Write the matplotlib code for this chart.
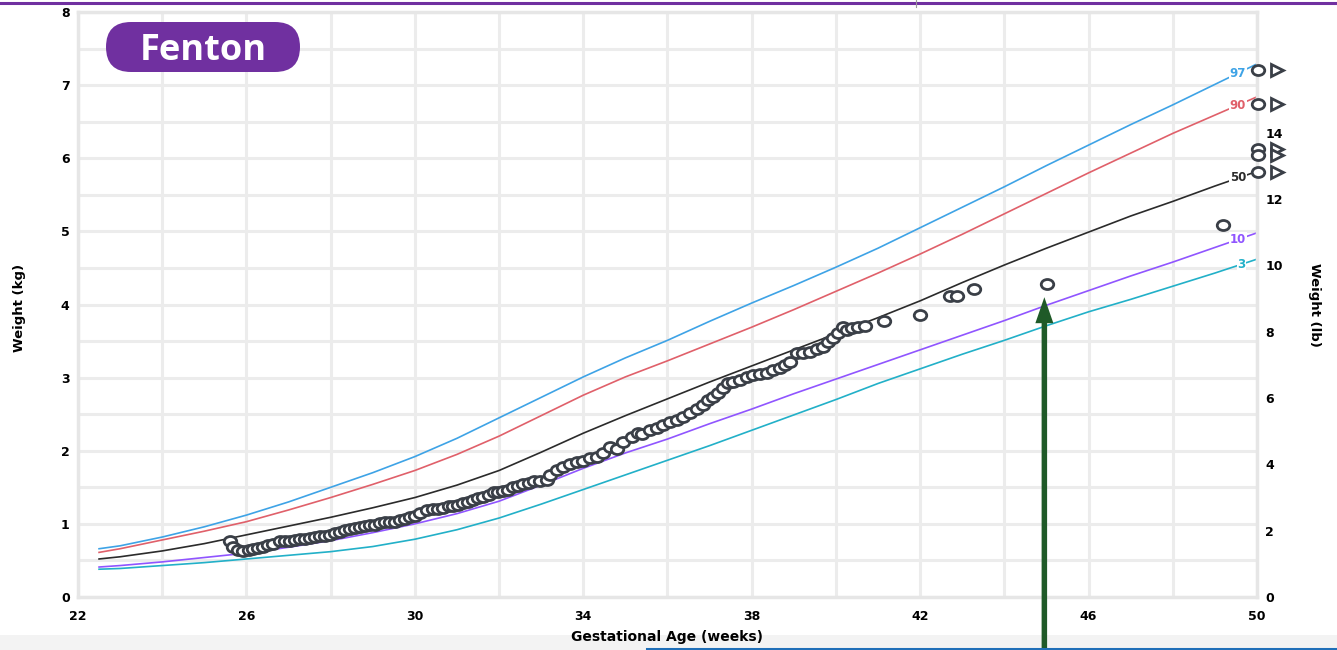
import numpy as np
import matplotlib.pyplot as plt
from matplotlib.patches import FancyBboxPatch, FancyArrow, Rectangle
from matplotlib.path import Path
from matplotlib.transforms import IdentityTransform, Affine2D
from matplotlib.lines import Line2D

plt.rcParams['font.family'] = ['DejaVu Sans']
plt.rcParams['font.weight'] = 'bold'

# percentile curves (Fenton, kg)
weeks = [22.5, 23, 24, 25, 26, 27, 28, 29, 30, 31, 32, 33, 34, 35, 36,
         37, 38, 39, 40, 41, 42, 43, 44, 45, 46, 47, 48, 49, 50]
p97 = [0.66, 0.70, 0.82, 0.96, 1.12, 1.30, 1.50, 1.70, 1.92, 2.17, 2.45, 2.73, 3.01, 3.27, 3.51,
       3.77, 4.02, 4.26, 4.51, 4.77, 5.05, 5.33, 5.61, 5.90, 6.18, 6.46, 6.73, 7.01, 7.29]
p90 = [0.61, 0.66, 0.78, 0.90, 1.03, 1.19, 1.36, 1.54, 1.73, 1.95, 2.20, 2.48, 2.76, 3.01, 3.23,
       3.46, 3.69, 3.93, 4.18, 4.43, 4.69, 4.96, 5.24, 5.52, 5.80, 6.07, 6.34, 6.59, 6.84]
p50 = [0.52, 0.55, 0.63, 0.73, 0.85, 0.97, 1.09, 1.22, 1.36, 1.53, 1.73, 1.98, 2.24, 2.48, 2.71,
       2.94, 3.16, 3.38, 3.60, 3.82, 4.05, 4.30, 4.54, 4.77, 4.99, 5.21, 5.41, 5.62, 5.82]
p10 = [0.41, 0.43, 0.48, 0.54, 0.60, 0.68, 0.77, 0.88, 1.00, 1.14, 1.31, 1.53, 1.76, 1.97, 2.16,
       2.37, 2.57, 2.78, 2.98, 3.18, 3.38, 3.58, 3.78, 3.99, 4.19, 4.39, 4.58, 4.78, 4.98]
p3 = [0.38, 0.39, 0.43, 0.47, 0.52, 0.57, 0.62, 0.69, 0.79, 0.92, 1.08, 1.27, 1.47, 1.67, 1.87,
      2.07, 2.28, 2.49, 2.70, 2.92, 3.12, 3.32, 3.51, 3.71, 3.90, 4.07, 4.25, 4.43, 4.62]
pct_names = ['97', '90', '50', '10', '3']
pct_colors = ['#3ea3e6', '#e0606a', '#2b2b2b', '#9055ff', '#22b0c8']

# infant weights (kg) by gestational age (weeks)
ga = [25.61, 25.69, 25.81, 25.93, 26.05, 26.16, 26.28, 26.40, 26.52, 26.64,
      26.80, 26.92, 27.04, 27.15, 27.27, 27.39, 27.51, 27.63, 27.75, 27.87,
      27.99, 28.10, 28.22, 28.34, 28.46, 28.58, 28.70, 28.82, 28.94, 29.05,
      29.17, 29.29, 29.41, 29.53, 29.65, 29.77, 29.89, 30.00, 30.12, 30.28,
      30.44, 30.56, 30.68, 30.80, 30.91, 31.03, 31.15, 31.27, 31.39, 31.51,
      31.63, 31.75, 31.87, 31.98, 32.10, 32.22, 32.34, 32.46, 32.58, 32.70,
      32.82, 32.97, 33.13,
      33.21, 33.38, 33.52, 33.69, 33.85, 34.00, 34.16, 34.33, 34.47, 34.64,
      34.80, 34.95, 35.16, 35.30, 35.40, 35.59, 35.75, 35.90, 36.06, 36.23,
      36.37, 36.54, 36.70, 36.85, 36.96, 37.08, 37.20, 37.32, 37.44, 37.56,
      37.72, 37.89, 38.03, 38.20, 38.37, 38.51, 38.67, 38.79, 38.91, 39.08,
      39.22, 39.39, 39.55, 39.70, 39.82, 39.93, 40.05, 40.17, 40.26, 40.38,
      40.53, 40.69,
      41.13, 42.00, 42.71, 42.87, 43.27, 45.01, 49.19]
wt = [0.76, 0.69, 0.64, 0.63, 0.64, 0.65, 0.67, 0.69, 0.71, 0.73,
      0.76, 0.77, 0.77, 0.78, 0.79, 0.80, 0.81, 0.82, 0.83, 0.83,
      0.85, 0.87, 0.89, 0.92, 0.93, 0.94, 0.96, 0.97, 0.99, 0.99,
      1.01, 1.02, 1.03, 1.03, 1.05, 1.07, 1.09, 1.11, 1.15, 1.19,
      1.20, 1.21, 1.22, 1.24, 1.25, 1.26, 1.28, 1.30, 1.33, 1.35,
      1.37, 1.40, 1.43, 1.44, 1.45, 1.47, 1.50, 1.52, 1.55, 1.56,
      1.58, 1.59, 1.60,
      1.67, 1.74, 1.78, 1.82, 1.85, 1.86, 1.90, 1.92, 1.97, 2.05,
      2.03, 2.12, 2.19, 2.24, 2.23, 2.28, 2.31, 2.35, 2.39, 2.42,
      2.46, 2.52, 2.57, 2.63, 2.69, 2.74, 2.79, 2.86, 2.93, 2.94,
      2.97, 3.01, 3.04, 3.05, 3.06, 3.11, 3.13, 3.17, 3.21, 3.34,
      3.34, 3.35, 3.39, 3.42, 3.49, 3.54, 3.61, 3.69, 3.65, 3.68,
      3.69, 3.71,
      3.77, 3.86, 4.11, 4.12, 4.21, 4.28, 5.09]

# symbols sitting just right of the plot edge
edge_kg = [7.21, 6.74, 6.13, 6.05, 5.81]

W, H = 1337, 650
fig = plt.figure(figsize=(W / 100, H / 100), dpi=100)
ax = fig.add_axes([78 / W, 1 - 597 / H, (1257 - 78) / W, (597 - 12) / H])

ax.set_xlim(22, 50)
ax.set_ylim(0, 8)
ax.set_xticks(range(22, 51, 4))
ax.set_xticks(range(22, 51, 2), minor=True)
ax.set_yticks(range(0, 9))
ax.set_yticks(np.arange(0, 8.01, 0.5), minor=True)
ax.grid(which='both', color='#ececec', lw=2.2, zorder=0)
ax.set_axisbelow(True)
ax.tick_params(which='both', length=0, labelsize=9)
ax.tick_params(axis='x', pad=9)
ax.tick_params(axis='y', pad=6)
for sp in ax.spines.values():
    sp.set_color('#e6e6e6')
    sp.set_linewidth(2.5)

# percentile lines + end labels
for name, vals, col in zip(pct_names, [p97, p90, p50, p10, p3], pct_colors):
    ax.plot(weeks, vals, color=col, lw=1.2, zorder=2, solid_joinstyle='round')
    lx = 49.63 if name == '3' else 49.55
    ax.text(lx, np.interp(lx, weeks, vals), name, color=col, fontsize=8.5,
            ha='center', va='center', zorder=3,
            bbox=dict(fc='white', ec='none', pad=0.6))

# slightly wide ellipse marker (the source screenshot is stretched)
ell = Path.unit_circle().transformed(Affine2D().scale(1.25, 1.0))
ax.plot(ga, wt, ls='none', marker=ell, ms=9, mfc='white', mec='#3a3f47',
        mew=2, zorder=4, clip_on=False)
ax.plot([50.03] * len(edge_kg), edge_kg, ls='none', marker=ell, ms=9,
        mfc='white', mec='#3a3f47', mew=2, zorder=4, clip_on=False)
ax.plot([50.48] * len(edge_kg), edge_kg, ls='none', marker='>', ms=9,
        mfc='white', mec='#3a3f47', mew=2, zorder=4, clip_on=False)

# right axis in pounds
ax2 = ax.twinx()
ax2.set_ylim(0, 8 / 0.45359237)
ax2.set_yticks(range(0, 15, 2))
ax2.tick_params(length=0, labelsize=9, pad=6)
for sp in ax2.spines.values():
    sp.set_visible(False)

fig.text(20 / W, 1 - 308 / H, 'Weight (kg)', rotation=90, ha='center', va='center', fontsize=9.5)
fig.text(1315 / W, 1 - 305 / H, 'Weight (lb)', rotation=270, ha='center', va='center', fontsize=9.5)
fig.text(667 / W, 1 - 637 / H, 'Gestational Age (weeks)', ha='center', va='center', fontsize=10)

# slide decorations
fig.add_artist(Line2D([0, 1], [1 - 3 / H] * 2, transform=fig.transFigure, color='#7030a0', lw=2.2))
fig.add_artist(Line2D([916 / W] * 2, [1, 1 - 7 / H], transform=fig.transFigure, color='#9a9a9a', lw=0.8))
fig.add_artist(Rectangle((0, 0), 1, 15 / H, transform=fig.transFigure, fc='#f3f3f3', ec='none', zorder=0))
fig.add_artist(Line2D([647 / W, 1], [1.5 / H] * 2, transform=fig.transFigure, color='#1f6fb8', lw=2.2))

badge = FancyBboxPatch((106, H - 72), 194, 50, boxstyle='round,pad=0,rounding_size=25',
                       transform=IdentityTransform(), fc='#7030a0', ec='none')
fig.add_artist(badge)
fig.text(203 / W, 1 - 60 / H, 'Fenton', color='white', family='Open Sans', fontweight='bold',
         fontsize=26, ha='center', va='baseline')

# green arrow pointing at the 45-week weight
tip = ax.transData.transform((44.95, 4.10))
fig.add_artist(FancyArrow(tip[0], 0, 0, tip[1], width=5.5, head_width=18, head_length=26,
                          length_includes_head=True, fc='#1f5a28', ec='none',
                          transform=IdentityTransform()))

fig.savefig('out.png', dpi=100)
